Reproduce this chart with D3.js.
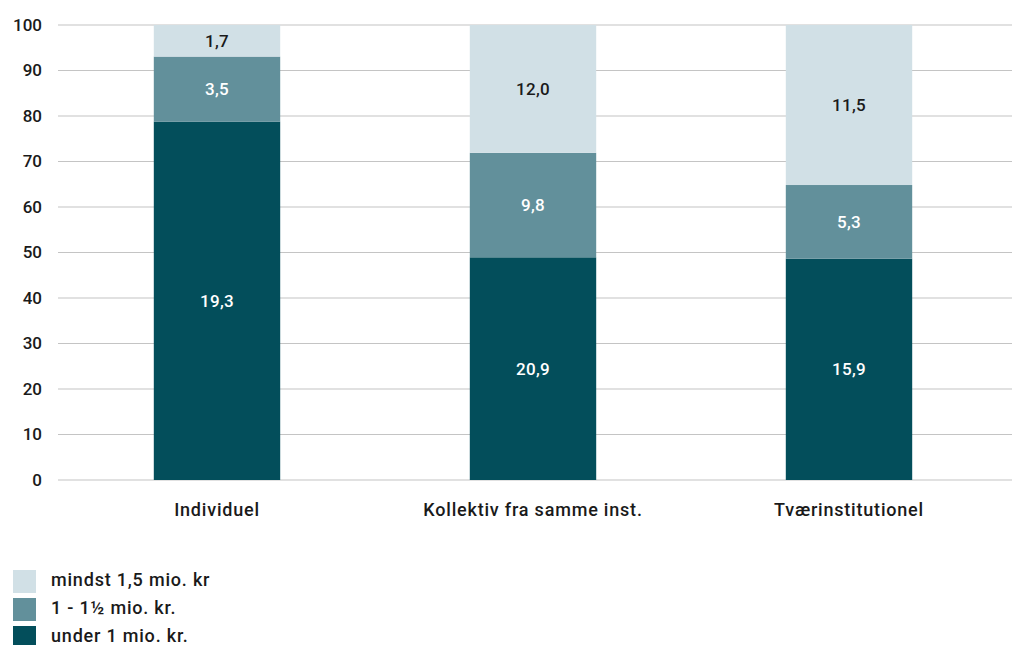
<!DOCTYPE html>
<html><head><meta charset="utf-8">
<script src="https://cdn.jsdelivr.net/npm/d3@7"></script>
<style>
body{margin:0;background:#fff;}
text{font-family:"Roboto","DejaVu Sans",sans-serif;font-weight:500;}
</style></head>
<body><svg id="c" width="1012" height="645"></svg>
<script>
const categories = ["Individuel","Kollektiv fra samme inst.","Tværinstitutionel"];
const seriesNames = ["under 1 mio. kr.","1 - 1½ mio. kr.","mindst 1,5 mio. kr"];
const under1 = [19.3, 20.9, 15.9];
const mid = [3.5, 9.8, 5.3];
const mindst = [1.7, 12.0, 11.5];
const colors = ["#034e5b","#62909b","#d1e0e6"];
const labelColors = ["#ffffff","#ffffff","#1a1a1a"];
const yTicks = [0,10,20,30,40,50,60,70,80,90,100];

const svg = d3.select("#c");
const x = d3.scaleBand().domain(categories).range([59,1007]).paddingInner(0.6).paddingOuter(0.3);
const y = d3.scaleLinear().domain([0,100]).range([480,25]);

const rows = categories.map((c,i)=>({cat:c, v:[under1[i], mid[i], mindst[i]]}));

// gridlines
svg.append("g").selectAll("line").data(yTicks).join("line")
  .attr("x1",58).attr("x2",1012).attr("y1",d=>y(d)).attr("y2",d=>y(d))
  .attr("stroke","#c4c4c4").attr("stroke-width",1.2);

const yAxis = svg.append("g").attr("transform","translate(42,0)")
  .call(d3.axisLeft(y).tickValues(yTicks).tickSize(0).tickPadding(0));
yAxis.select(".domain").remove();
yAxis.selectAll("text").attr("font-size",17).attr("fill","#1a1a1a")
  .style("font-family","Roboto, sans-serif").style("font-weight",500);

const fmt = v => d3.format(".1f")(v).replace(".",",");

rows.forEach(r=>{
  const total = d3.sum(r.v);
  let cum = 0;
  r.v.forEach((v,k)=>{
    const p0 = cum/total*100, p1 = (cum+v)/total*100;
    cum += v;
    svg.append("rect").attr("x",x(r.cat)).attr("width",x.bandwidth())
      .attr("y",y(p1)).attr("height",y(p0)-y(p1)).attr("fill",colors[k]);
    svg.append("text").attr("x",x(r.cat)+x.bandwidth()/2).attr("y",(y(p0)+y(p1))/2)
      .attr("dy","0.35em").attr("text-anchor","middle").attr("font-size",17)
      .style("letter-spacing","0.3px")
      .attr("fill",labelColors[k]).text(fmt(v));
  });
});

const xAxis = svg.append("g").attr("transform","translate(0,480)")
  .call(d3.axisBottom(x).tickSize(0).tickPadding(23));
xAxis.select(".domain").remove();
xAxis.selectAll("text").attr("font-size",18).attr("fill","#1a1a1a")
  .style("font-family","Roboto, sans-serif").style("font-weight",500)
  .style("letter-spacing","0.8px");

// legend (top to bottom: mindst, mid, under)
const legendOrder = [2,1,0];
const lg = svg.append("g");
legendOrder.forEach((k,i)=>{
  const yy = 570 + i*28;
  lg.append("rect").attr("x",13).attr("y",yy).attr("width",23).attr("height",23).attr("fill",colors[k]);
  lg.append("text").attr("x",51).attr("y",yy+16).attr("font-size",18)
    .style("letter-spacing","0.8px").attr("fill","#1a1a1a").text(seriesNames[k]);
});
</script></body></html>
